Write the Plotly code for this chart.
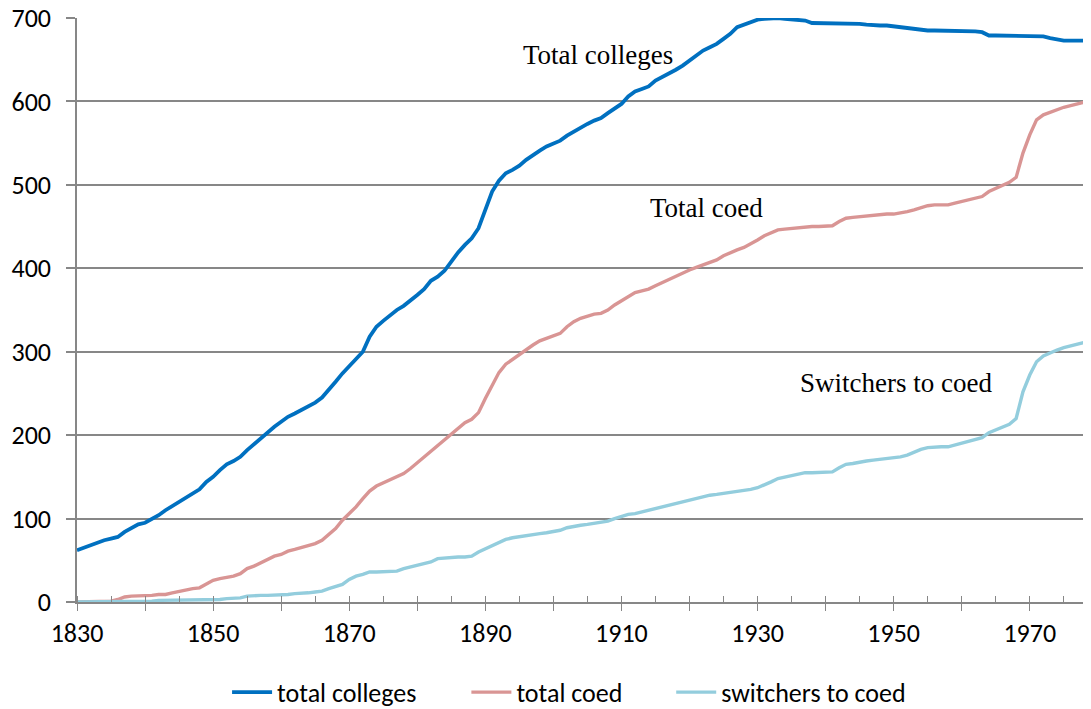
"""
Colleges vs. coeducation, 1830-1979 (line chart)
"""
import plotly.graph_objects as go

years = list(range(1830, 1980))

total_colleges = [
    62, 65, 69, 72, 74, 76, 78, 84, 89, 93,
    95, 99, 104, 110, 115, 120, 126, 130, 135, 144,
    150, 158, 165, 169, 174, 182, 189, 197, 204, 210,
    216, 222, 226, 230, 234, 239, 245, 254, 264, 274,
    283, 292, 300, 318, 330, 337, 344, 350, 355, 361,
    368, 375, 385, 390, 397, 408, 419, 428, 436, 448,
    470, 492, 505, 514, 518, 523, 530, 536, 541, 546,
    550, 553, 559, 564, 569, 573, 577, 580, 586, 591,
    597, 606, 612, 615, 618, 625, 629, 633, 638, 643,
    649, 655, 661, 665, 669, 675, 681, 689, 692, 694,
    698, 699, 700, 700, 699, 698, 698, 697, 694, 694,
    694, 694, 694, 694, 694, 693, 692, 691, 691, 691,
    690, 689, 688, 686, 686, 685, 685, 685, 685, 685,
    684, 684, 684, 683, 679, 679, 679, 679, 679, 678,
    678, 678, 678, 676, 674, 673, 673, 673, 673, 673,
]

total_coed = [
    0, 0, 0, 0, 0, 1, 3, 6, 7, 7,
    8, 8, 9, 9, 11, 13, 14, 16, 17, 21,
    26, 28, 29, 31, 34, 40, 43, 47, 51, 55,
    57, 61, 63, 65, 67, 70, 74, 81, 88, 98,
    106, 114, 124, 133, 139, 143, 146, 150, 154, 160,
    167, 173, 180, 188, 194, 202, 209, 215, 219, 227,
    244, 260, 275, 285, 291, 297, 302, 308, 313, 316,
    319, 322, 330, 336, 340, 343, 345, 346, 350, 356,
    361, 366, 371, 373, 375, 379, 383, 387, 391, 395,
    398, 401, 404, 408, 410, 415, 419, 422, 425, 429,
    434, 439, 443, 446, 447, 448, 449, 450, 450, 450,
    450, 451, 456, 460, 461, 462, 463, 464, 464, 465,
    465, 466, 468, 470, 473, 475, 476, 476, 476, 478,
    480, 482, 484, 486, 492, 496, 499, 503, 509, 538,
    560, 578, 584, 587, 591, 593, 595, 597, 599, 601,
]

switchers = [
    0, 0, 0, 0, 0, 1, 1, 1, 1, 1,
    1, 1, 2, 2, 2, 2, 2, 2, 2, 2,
    3, 3, 4, 4, 5, 7, 8, 8, 8, 8,
    8, 9, 10, 10, 11, 12, 13, 16, 18, 21,
    27, 31, 33, 36, 36, 36, 36, 37, 40, 42,
    45, 47, 48, 52, 53, 54, 54, 54, 55, 60,
    64, 68, 72, 75, 77, 78, 79, 80, 82, 83,
    84, 86, 89, 91, 92, 93, 94, 95, 97, 100,
    103, 105, 106, 108, 110, 112, 114, 116, 119, 120,
    122, 124, 126, 128, 129, 130, 131, 132, 134, 135,
    137, 140, 144, 148, 150, 151, 153, 155, 155, 155,
    155, 156, 161, 165, 166, 168, 169, 170, 171, 171,
    172, 174, 176, 180, 183, 185, 186, 186, 186, 188,
    190, 192, 194, 197, 203, 206, 209, 213, 220, 252,
    272, 288, 295, 299, 302, 305, 307, 309, 311, 313,
]

x_ticks = list(range(1830, 1980, 10))
x_labels = [str(y) if (y - 1830) % 20 == 0 else "" for y in x_ticks]

GRID = "#878787"
FONT = "Carlito, Calibri, Lato, sans-serif"
SERIF = "Liberation Serif, Times New Roman, serif"

fig = go.Figure()
fig.add_trace(go.Scatter(x=years, y=total_colleges, mode="lines", name="total colleges",
                         line=dict(color="#0070C0", width=3.8), legend="legend"))
fig.add_trace(go.Scatter(x=years, y=total_coed, mode="lines", name="total coed",
                         line=dict(color="#D99594", width=3.4), legend="legend2"))
fig.add_trace(go.Scatter(x=years, y=switchers, mode="lines", name="switchers to coed",
                         line=dict(color="#93CDDD", width=3.4), legend="legend3"))

# 曲线旁的文字标注
labels = [("Total colleges", 1906.5, 656), ("Total coed", 1922.5, 472),
          ("Switchers to coed", 1950.4, 262)]
for txt, ax, ay in labels:
    fig.add_annotation(x=ax, y=ay, text=txt, showarrow=False,
                       font=dict(family=SERIF, size=27, color="black"))


def legend_at(x):
    # 每个图例单独定位，间距跟原图一致
    return dict(orientation="h", x=x, xanchor="left",
                yref="container", y=0.024, yanchor="middle",
                font=dict(size=26), itemwidth=40, bgcolor="rgba(0,0,0,0)")


# 页面 body 有 8px 外边距，画布相应缩小
fig.update_layout(
    width=1083, height=701,
    margin=dict(l=69, r=0, t=10, b=107, autoexpand=False),
    plot_bgcolor="white", paper_bgcolor="white",
    font=dict(family=FONT, size=26, color="black"),
    showlegend=True,
    legend=legend_at(0.148),
    legend2=legend_at(0.384),
    legend3=legend_at(0.586),
)
fig.update_xaxes(
    range=[1830, 1979], tickvals=x_ticks, ticktext=x_labels,
    showgrid=False, showline=True, linecolor=GRID, linewidth=1.5,
    ticks="outside", ticklen=7, tickcolor=GRID, tickwidth=1.3,
    minor=dict(dtick=5, tick0=1830, ticks="inside", ticklen=6, tickcolor=GRID, showgrid=False),
    zeroline=False, ticklabeloverflow="allow", automargin=False,
)
fig.update_yaxes(
    range=[0, 700], dtick=100, tick0=0,
    showgrid=True, gridcolor=GRID, gridwidth=1.5,
    showline=True, linecolor=GRID, linewidth=1.5,
    ticks="outside", ticklen=9, tickcolor=GRID, tickwidth=1.5,
    ticklabelstandoff=10, ticklabeloverflow="allow",
    zeroline=False, automargin=False,
)

fig.write_html("out.html")
